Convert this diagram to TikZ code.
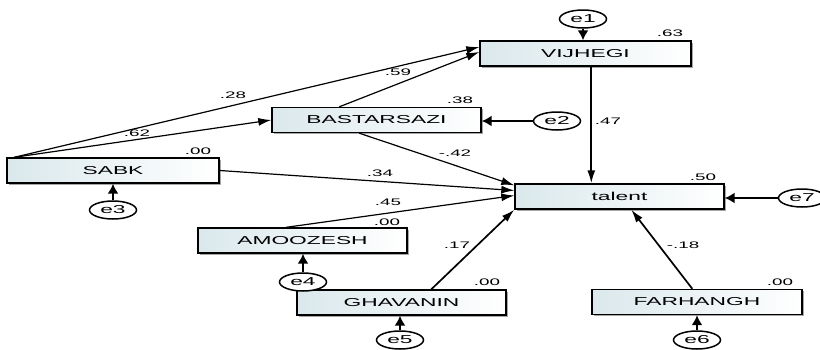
\documentclass[tikz,border=0pt]{standalone}
\usepackage{fontspec}
\setmainfont{Liberation Sans}
\newfontfamily\wfont[FakeStretch=1.98]{Liberation Sans}
\usetikzlibrary{arrows.meta,calc,shadows,shapes.geometric}
\definecolor{boxfill}{RGB}{218,232,236}
\begin{document}
\begin{tikzpicture}[x=1pt,y=-1pt,
  box/.style={draw=black, line width=1.4pt, minimum width=209pt, minimum height=25pt, inner sep=0pt,
    left color=boxfill, right color=white, font=\wfont\fontsize{11.5}{11.5}\selectfont,
    drop shadow={shadow xshift=1.6pt, shadow yshift=-1.6pt, fill=gray!70, opacity=1}},
  err/.style={ellipse, draw, line width=1.5pt, minimum width=47pt, minimum height=18pt, inner sep=0pt,
    fill=white, font=\wfont\fontsize{11.5}{11.5}\selectfont},
  num/.style={font=\wfont\fontsize{9.5}{9.5}\selectfont, inner sep=0pt},
  arr/.style={-{Latex[length=13pt,width=8pt]}, line width=1.2pt},
  earr/.style={-{Latex[length=10pt,width=11pt]}, line width=1.8pt}]
\useasboundingbox (0,0) rectangle (820,349);
% boxes
\node[box, minimum width=211pt] (vij) at (585.5,53.5) {VIJHEGI};
\node[box] (bas) at (376.5,120) {BASTARSAZI};
\node[box, minimum width=212pt] (sabk) at (113,170.5) {SABK};
\node[box] (tal) at (619.5,196.5) {talent};
\node[box] (amo) at (302.5,240.5) {AMOOZESH};
\node[box] (gha) at (401.5,302.5) {GHAVANIN};
\node[box, minimum width=210pt] (far) at (697,302) {FARHANGH};
% error terms
\node[err] (e1) at (583,19) {e1};
\node[err] (e2) at (557,121) {e2};
\node[err] (e3) at (113,210) {e3};
\node[err] (e4) at (303,282) {e4};
\node[err] (e5) at (400,340) {e5};
\node[err] (e6) at (697,340) {e6};
\node[err] (e7) at (802,198) {e7};
% error arrows
\draw[earr] (e1) -- (e1 |- vij.north);
\draw[earr] (e2) -- (bas.east |- e2);
\draw[earr] (e3) -- (e3 |- sabk.south);
\draw[earr] (e4) -- (e4 |- amo.south);
\draw[earr] (e5) -- (e5 |- gha.south);
\draw[earr] (e6) -- (e6 |- far.south);
\draw[earr] (e7) -- (tal.east |- e7);
% paths
\draw[arr] ($(sabk.north west)+(8,0)$) -- ($(vij.west)+(0,-6.5)$);
\draw[arr] ($(sabk.north west)+(8,0)$) -- ($(bas.west)+(0,0)$);
\draw[arr] ($(bas.north west)+(68,0)$) -- ($(vij.west)+(0,-1.5)$);
\draw[arr, line width=1.8pt] ($(vij.south west)+(112,0)$) -- ($(tal.north west)+(77,0)$);
\draw[arr] ($(bas.south west)+(88,0)$) -- ($(tal.north west)+(0,2)$);
\draw[arr] (sabk.east) -- ($(tal.west)+(0,-6)$);
\draw[arr] ($(amo.north west)+(89,0)$) -- ($(tal.west)+(0,-1)$);
\draw[arr, line width=1.7pt] ($(gha.north west)+(135,0)$) -- (tal.south west);
\draw[arr, line width=1.7pt] ($(far.north west)+(101,0)$) -- ($(tal.south west)+(117,0)$);
% coefficient labels
\node[num] (l28) at (233,95) {.28};
\node[num] (l62) at (137,133) {.62};
\node[num] (l59) at (398,72) {.59};
\node[num] (l47) at (608,121) {.47};
\node[num] (l42) at (455,153) {-.42};
\node[num] (l34) at (380,173) {.34};
\node[num] (l45) at (388,202) {.45};
\node[num] (l17) at (457,245) {.17};
\node[num] (l18) at (683,245) {-.18};
% squared multiple correlations
\node[num] (r63) at (670,33) {.63};
\node[num] (r38) at (460,100) {.38};
\node[num] (r00a) at (198,151) {.00};
\node[num] (r50) at (703,177) {.50};
\node[num] (r00b) at (387,222) {.00};
\node[num] (r00c) at (487,282) {.00};
\node[num] (r00d) at (780,282) {.00};
\end{tikzpicture}
\end{document}
